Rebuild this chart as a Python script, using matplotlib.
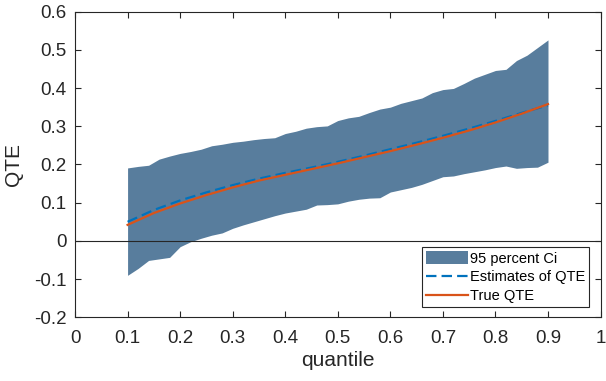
import numpy as np
import matplotlib
matplotlib.use("Agg")
import matplotlib.pyplot as plt

plt.rcParams['font.family'] = ['Liberation Sans', 'DejaVu Sans']

# band of the 95 percent confidence interval
q_band = [0.10, 0.12, 0.14, 0.16, 0.18, 0.20, 0.22, 0.24, 0.26, 0.28,
          0.30, 0.32, 0.34, 0.36, 0.38, 0.40, 0.42, 0.44, 0.46, 0.48,
          0.50, 0.52, 0.54, 0.56, 0.58, 0.60, 0.62, 0.64, 0.66, 0.68,
          0.70, 0.72, 0.74, 0.76, 0.78, 0.80, 0.82, 0.84, 0.86, 0.88, 0.90]
ci_upper = [0.191, 0.195, 0.198, 0.214, 0.222, 0.229, 0.234, 0.240, 0.249, 0.253,
            0.258, 0.261, 0.265, 0.268, 0.270, 0.281, 0.287, 0.295, 0.299, 0.301,
            0.315, 0.322, 0.326, 0.336, 0.345, 0.350, 0.360, 0.367, 0.374, 0.388,
            0.396, 0.399, 0.412, 0.426, 0.436, 0.446, 0.449, 0.472, 0.486, 0.506, 0.526]
ci_lower = [-0.090, -0.072, -0.051, -0.047, -0.043, -0.015, -0.002, 0.007, 0.015, 0.021,
            0.033, 0.042, 0.050, 0.058, 0.066, 0.073, 0.078, 0.083, 0.094, 0.095,
            0.097, 0.104, 0.109, 0.112, 0.113, 0.128, 0.134, 0.140, 0.148, 0.158,
            0.168, 0.170, 0.176, 0.181, 0.186, 0.192, 0.196, 0.190, 0.192, 0.193, 0.206]

# estimated and true quantile treatment effects
q_line = [0.10, 0.15, 0.20, 0.25, 0.30, 0.35, 0.40, 0.45, 0.50,
          0.55, 0.60, 0.65, 0.70, 0.75, 0.80, 0.85, 0.90]
qte_est = [0.050, 0.081, 0.106, 0.127, 0.146, 0.163, 0.178, 0.192, 0.207,
           0.223, 0.240, 0.257, 0.275, 0.294, 0.314, 0.335, 0.355]
qte_true = [0.042, 0.073, 0.098, 0.120, 0.140, 0.158, 0.173, 0.188, 0.203,
            0.219, 0.235, 0.252, 0.270, 0.289, 0.310, 0.333, 0.358]

fig = plt.figure(figsize=(6.06, 3.81), dpi=100)
ax = fig.add_axes([0.1238, 0.167, 0.8672, 0.8025])

ax.fill_between(q_band, ci_lower, ci_upper, color='#587d9d', linewidth=0,
                label='95 percent Ci')
ax.plot(q_line, qte_est, '--', color='#0072BD', lw=1.6, dashes=(4.7, 2.3),
        label='Estimates of QTE')
ax.plot(q_line, qte_true, '-', color='#D95319', lw=1.6, label='True QTE')
ax.axhline(0, color='#262626', lw=0.8)

ax.set_xlim(0, 1)
ax.set_ylim(-0.2, 0.6)
ax.set_xticks(np.arange(0, 1.01, 0.1))
ax.set_xticklabels(['0', '0.1', '0.2', '0.3', '0.4', '0.5', '0.6', '0.7', '0.8', '0.9', '1'])
ax.set_yticks(np.arange(-0.2, 0.61, 0.1))
ax.set_yticklabels(['-0.2', '-0.1', '0', '0.1', '0.2', '0.3', '0.4', '0.5', '0.6'])
ax.tick_params(direction='in', top=True, right=True, length=4, width=0.8,
               labelsize=13.5, colors='#262626')
ax.tick_params(axis='x', pad=9)
ax.tick_params(axis='y', pad=6)
for s in ax.spines.values():
    s.set_color('#262626')
    s.set_linewidth(0.8)

ax.set_xlabel('quantile', fontsize=15, color='#262626', labelpad=3)
ax.set_ylabel('QTE', fontsize=15, color='#262626', labelpad=8)

leg = ax.legend(loc='lower right', bbox_to_anchor=(0.9787, 0.0338), fontsize=10.5,
                fancybox=False, framealpha=1, edgecolor='#262626',
                handlelength=2.86, handleheight=1.0, handletextpad=0.2,
                borderpad=0.25, labelspacing=0.3, borderaxespad=0)
leg.get_frame().set_linewidth(0.8)

fig.savefig('out.png', dpi=100)
